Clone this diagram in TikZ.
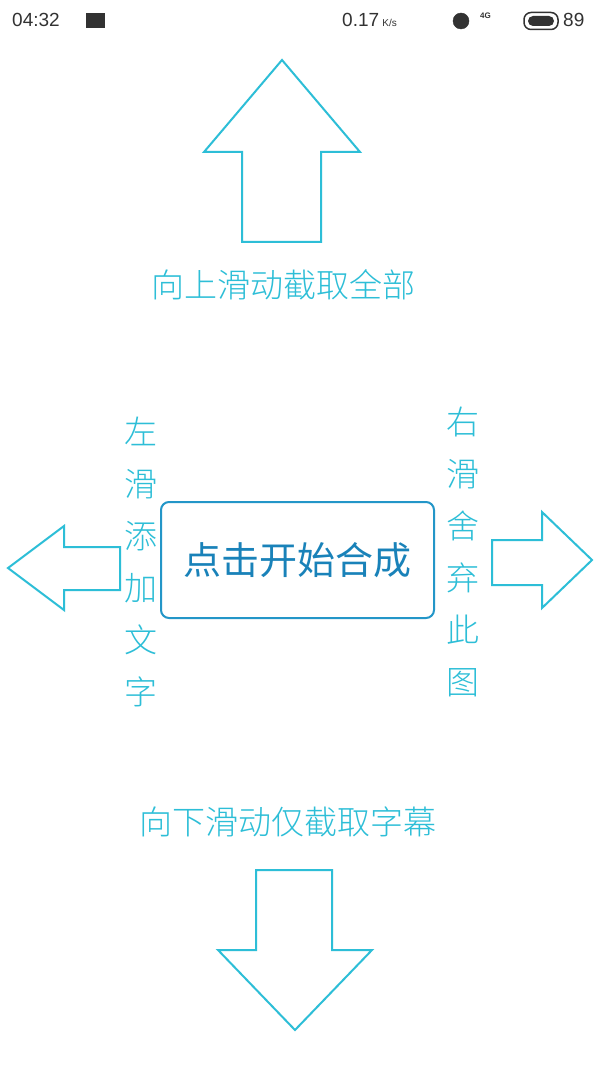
\documentclass[tikz,border=0pt]{standalone}
\usepackage{fontspec}
\setmainfont{Liberation Sans}
\newfontfamily\cjk{Noto Sans CJK SC}
\newfontfamily\cjkl{Noto Sans CJK SC Light}
\definecolor{cy}{RGB}{45,190,215}
\definecolor{bx}{RGB}{35,150,200}
\definecolor{tx}{RGB}{25,130,185}
\definecolor{sb}{RGB}{50,50,50}
\tikzset{arr/.style={draw=cy,line width=2pt,fill=white,line join=miter},
 lbl/.style={text=cy,font=\cjkl\fontsize{33}{35}\selectfont,inner sep=0},
 vlbl/.style={text=cy,font=\cjkl\fontsize{33}{52}\selectfont,align=center,inner sep=0},
 st/.style={text=sb,font=\fontsize{19}{20}\selectfont,inner sep=0}}
\begin{document}
\begin{tikzpicture}[x=1pt,y=-1pt]
\useasboundingbox[fill=white] (0,0) rectangle (600,1067);
% status bar
\node[st,anchor=west] (time) at (12,20) {04:32};
\node[draw=sb,fill=sb,minimum width=18pt,minimum height=14pt,inner sep=0] (img) at (95,20) {};
\node[st,anchor=west] (spd) at (342,20) {0.17\,{\fontsize{10}{10}\selectfont K/s}};
\node[draw=sb,fill=sb,circle,minimum size=16pt,inner sep=0] (alarm) at (461,21) {};
\node[st,font=\fontsize{8}{8}\selectfont\bfseries,anchor=west] (fg) at (480,16) {4G};
\node[draw=sb,line width=1.5pt,rounded corners=7pt,minimum width=34pt,minimum height=17pt,inner sep=0] (bat) at (541,21) {};
\node[fill=sb,rounded corners=5pt,minimum width=26pt,minimum height=10pt,inner sep=0] at (bat) {};
\node[st,anchor=west] (pct) at (563,20) {89};
% up arrow
\draw[arr] (282,60) -- (360,152) -- (321,152) -- (321,242) -- (242,242) -- (242,152) -- (204,152) -- cycle;
\node[lbl] (up) at (283,285) {向上滑动截取全部};
% left arrow
\draw[arr] (8,568) -- (64,526) -- (64,547) -- (120,547) -- (120,590) -- (64,590) -- (64,610) -- cycle;
\node[vlbl] (lt) at (141,562) {左\\滑\\添\\加\\文\\字};
% center box
\node[draw=bx,line width=2pt,rounded corners=8pt,minimum width=273pt,minimum height=116pt,text=tx,font=\cjk\fontsize{38}{40}\selectfont] (box) at (297.5,560) {点击开始合成};
% right
\node[vlbl] (rt) at (463,552) {右\\滑\\舍\\弃\\此\\图};
\draw[arr] (592,560) -- (542,512) -- (542,540) -- (492,540) -- (492,585) -- (542,585) -- (542,608) -- cycle;
% down
\node[lbl] (dn) at (288,822) {向下滑动仅截取字幕};
\draw[arr] (295,1030) -- (372,950) -- (332,950) -- (332,870) -- (256,870) -- (256,950) -- (218,950) -- cycle;
\end{tikzpicture}
\end{document}
